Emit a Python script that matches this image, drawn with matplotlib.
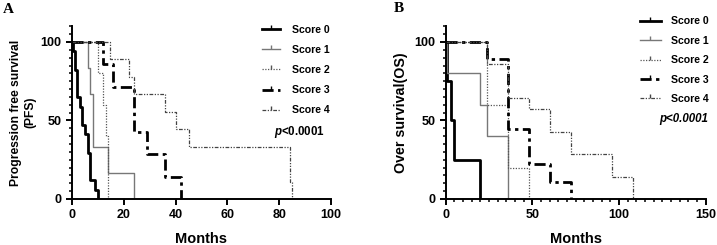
"""Kaplan-Meier style PFS / OS curves by score (panels A and B)."""

import matplotlib

matplotlib.use("Agg")
import matplotlib.pyplot as plt
from matplotlib.lines import Line2D
from matplotlib.ticker import MultipleLocator

plt.rcParams["font.family"] = ["Liberation Sans", "DejaVu Sans"]
plt.rcParams["font.weight"] = "bold"
plt.rcParams["mathtext.fontset"] = "custom"
plt.rcParams["mathtext.rm"] = "Liberation Sans:bold"
plt.rcParams["mathtext.it"] = "Liberation Sans:bold:italic"

labels = ["Score 0", "Score 1", "Score 2", "Score 3", "Score 4"]

# Panel A: progression free survival (months, % surviving)
pfs_t = [
    [0, 0.5, 1, 2, 3, 4, 5, 6, 7, 9, 10],
    [0, 6, 7, 8, 14, 24],
    [0, 10, 12, 13, 14],
    [0, 12, 16, 24, 29, 36, 42],
    [0, 14.5, 22, 24, 36, 40, 45, 84, 85],
]
pfs_s = [
    [100, 94.1, 82.4, 64.7, 58.8, 47.1, 41.2, 29.4, 11.8, 5.9, 0],
    [100, 83.3, 66.7, 33.3, 16.7, 0],
    [100, 80, 60, 40, 0],
    [100, 85.7, 71.4, 42.9, 28.6, 14.3, 0],
    [100, 88.9, 77.8, 66.7, 55.6, 44.4, 33.3, 11.1, 0],
]

# Panel B: overall survival
os_t = [
    [0, 1, 3, 5, 20],
    [0, 1, 20, 24, 36],
    [0, 24, 36, 48],
    [0, 24, 36, 48, 60, 72],
    [0, 24, 36, 48, 60, 72, 96, 108],
]
os_s = [
    [100, 75, 50, 25, 0],
    [100, 80, 60, 40, 0],
    [100, 60, 20, 0],
    [100, 88.9, 44.4, 22.2, 11.1, 0],
    [100, 85.7, 64.3, 57.1, 42.9, 28.6, 14.3, 0],
]

styles = [
    dict(color="black", linewidth=2.0, linestyle="-"),
    dict(color="#777777", linewidth=1.0, linestyle="-"),
    dict(color="#555555", linewidth=0.9, linestyle=(0, (1, 1.2))),
    dict(color="black", linewidth=2.0, linestyle=(0, (4, 1.6, 1.2, 1.6))),
    dict(color="#444444", linewidth=0.9, linestyle=(0, (3, 1.2, 1, 1.2, 1, 1.2))),
]


def style_axes(ax, xmax, xstep, xminor):
    for side in ("top", "right"):
        ax.spines[side].set_visible(False)
    for side in ("left", "bottom"):
        ax.spines[side].set_linewidth(1.4)
    ax.set_xlim(0, xmax)
    ax.set_ylim(0, 110)
    ax.set_xticks(range(0, xmax + 1, xstep))
    ax.set_yticks([0, 50, 100])
    ax.yaxis.set_minor_locator(MultipleLocator(5))
    if xminor:
        ax.xaxis.set_minor_locator(MultipleLocator(xminor))
    ax.tick_params(which="major", length=4, width=1.4, labelsize=9, pad=3.5)
    ax.tick_params(which="minor", length=2.5, width=1.1)
    ax.set_xlabel("Months", fontsize=10.5, fontweight="bold")
    ax.xaxis.set_label_coords(0.5, -0.19)


def draw(ax, times, surv):
    for t, s, st in zip(times, surv, styles):
        ax.step(t, s, where="post", **st)


fig = plt.figure(figsize=(7.17, 2.45), dpi=100)
ax_a = fig.add_axes([0.1004, 0.1878, 0.3612, 0.705])
ax_b = fig.add_axes([0.6216, 0.1878, 0.3627, 0.705])

draw(ax_a, pfs_t, pfs_s)
draw(ax_b, os_t, os_s)
style_axes(ax_a, 100, 20, None)
style_axes(ax_b, 150, 50, 5)

ax_a.set_ylabel("Progression free survival\n(PFS)", fontsize=8.7, fontweight="bold")
ax_a.yaxis.set_label_coords(-0.139, 0.5)
ax_b.set_ylabel("Over survival(OS)", fontsize=10.3, fontweight="bold")
ax_b.yaxis.set_label_coords(-0.145, 0.5)

handles = [Line2D([], [], marker=2, markersize=3, markeredgewidth=1.0,
                  markeredgecolor=st["color"], **st) for st in styles]

ax_a.legend(handles, labels, loc="upper left", bbox_to_anchor=(0.3654, 0.900),
            bbox_transform=fig.transFigure, frameon=False, fontsize=7.6,
            handlelength=1.75, handletextpad=1.1, labelspacing=0.97,
            borderpad=0, borderaxespad=0, numpoints=1)
ax_b.legend(handles, labels, loc="upper left", bbox_to_anchor=(0.8926, 0.933),
            bbox_transform=fig.transFigure, frameon=False, fontsize=7.6,
            handlelength=1.95, handletextpad=1.0, labelspacing=0.89,
            borderpad=0, borderaxespad=0, numpoints=1)

fig.text(325 / 717, 1 - 132 / 245, r"$p$<0.0001", fontsize=8.3,
         ha="right", va="center")
fig.text(708 / 717, 1 - 119 / 245, "p<0.0001", fontsize=8.3,
         fontstyle="italic", fontweight="bold", ha="right", va="center")

fig.text(3 / 717, 1 - 3 / 245, "A", family="Liberation Serif", fontsize=11,
         fontweight="bold", ha="left", va="top")
fig.text(394 / 717, 1 - 2 / 245, "B", family="Liberation Serif", fontsize=11,
         fontweight="bold", ha="left", va="top")

fig.savefig("out.png", dpi=100)
